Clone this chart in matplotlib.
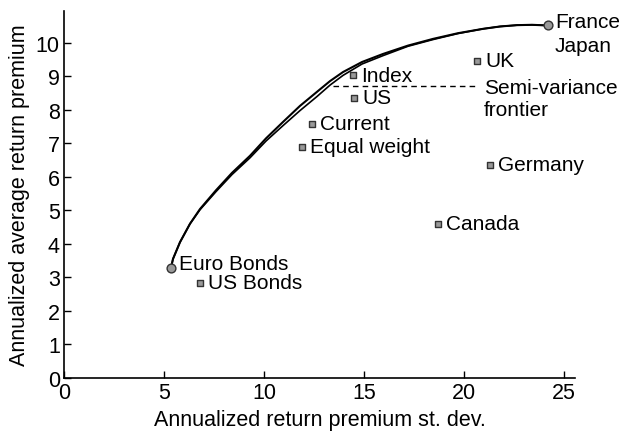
import matplotlib
matplotlib.use("Agg")
import matplotlib.pyplot as plt

plt.rcParams["font.family"] = ["Liberation Sans", "DejaVu Sans"]

# Frontier curves
mv_x = [5.35, 5.45, 5.8, 6.3, 6.8, 7.6, 8.4, 9.3, 10.1, 10.95, 11.8, 12.65, 13.3, 13.95, 14.9, 15.95, 17.2, 18.45, 19.7, 20.95, 21.8, 22.65, 23.4, 24.2]
mv_y = [3.28, 3.55, 4.05, 4.6, 5.04, 5.6, 6.12, 6.63, 7.15, 7.64, 8.12, 8.54, 8.86, 9.13, 9.43, 9.67, 9.92, 10.12, 10.29, 10.42, 10.49, 10.53, 10.54, 10.52]
sv_x = [5.35, 5.45, 5.8, 6.3, 6.8, 7.6, 8.4, 9.3, 10.1, 10.95, 11.8, 12.65, 13.3, 13.95, 14.9, 15.95, 17.2, 18.45, 19.7, 20.95, 21.8, 22.65, 23.4, 24.2]
sv_y = [3.28, 3.55, 4.05, 4.6, 5.02, 5.56, 6.07, 6.57, 7.07, 7.53, 7.98, 8.40, 8.74, 9.03, 9.37, 9.62, 9.9, 10.1, 10.28, 10.42, 10.49, 10.53, 10.54, 10.52]

# End points of the frontier (circles)
end_names = ["Euro Bonds", "France\nJapan"]
end_x = [5.35, 24.2]
end_y = [3.28, 10.52]

# Assets and portfolios (squares)
pt_names = ["US Bonds", "Index", "US", "Current", "Equal weight", "UK", "Germany", "Canada"]
pt_x = [6.8, 14.45, 14.5, 12.4, 11.9, 20.65, 21.3, 18.7]
pt_y = [2.84, 9.04, 8.36, 7.58, 6.9, 9.46, 6.36, 4.6]

# Semi-variance label leader line
dash_x = [13.45, 20.55]
dash_y = [8.72, 8.72]

fig = plt.figure(figsize=(6.21, 4.35), dpi=100)
ax = fig.add_axes([0.103, 0.129, 0.823, 0.844])

ax.plot(mv_x, mv_y, color="black", lw=1.5, solid_capstyle="round")
ax.plot(sv_x, sv_y, color="black", lw=1.2, solid_capstyle="round")
ax.plot(dash_x, dash_y, color="black", lw=1.0, ls=(0, (4, 3)))

ax.scatter(end_x, end_y, s=40, marker="o", facecolor="#999999", edgecolor="#333333", lw=1, zorder=3)
ax.scatter(pt_x, pt_y, s=22, marker="s", facecolor="#999999", edgecolor="#333333", lw=1, zorder=3)

fs = 15.5
afs = 15
ax.text(end_x[0] + 0.4, end_y[0] + 0.12, end_names[0], fontsize=afs, va="center", ha="left")
ax.text(end_x[1] + 0.35, end_y[1] - 0.25, end_names[1], fontsize=afs, va="center", ha="left", linespacing=1.35)
for name, x, y in zip(pt_names, pt_x, pt_y):
    ax.text(x + 0.4, y, name, fontsize=afs, va="center", ha="left")
ax.text(dash_x[1] + 0.45, dash_y[1] - 0.38, "Semi-variance\nfrontier", fontsize=afs, va="center", ha="left", linespacing=1.15)

ax.set_xlim(0, 25.55)
ax.set_ylim(0, 10.96)
ax.set_xticks([0, 5, 10, 15, 20, 25])
ax.set_yticks(range(0, 11))
ax.tick_params(direction="in", labelsize=fs, length=5, width=1, pad=3)
for side in ["top", "right"]:
    ax.spines[side].set_visible(False)
for side in ["left", "bottom"]:
    ax.spines[side].set_linewidth(1.2)

ax.set_xlabel("Annualized return premium st. dev.", fontsize=fs, labelpad=4)
ax.set_ylabel("Annualized average return premium", fontsize=fs, labelpad=4)

fig.savefig("out.png", dpi=100)
